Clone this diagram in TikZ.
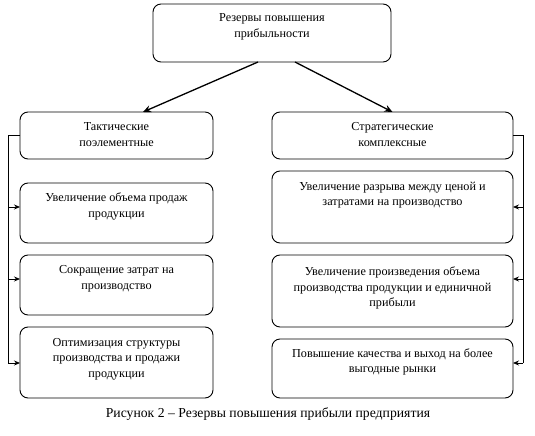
\documentclass[tikz,border=0pt]{standalone}
\usepackage{fontspec}
\setmainfont{Liberation Serif}[Script=Cyrillic]
\usetikzlibrary{arrows.meta}
\begin{document}
\begin{tikzpicture}[x=1pt,y=-1pt,
  box/.style={draw, line width=0.9pt, rounded corners=8pt, anchor=north west, inner sep=0pt, outer sep=0pt},
  txt/.style={align=center, font=\fontsize{12.2}{15.5}\selectfont, inner sep=0pt},
  arr/.style={-{Stealth[length=6pt,width=5pt]}, line width=0.8pt},
  tarr/.style={-{Stealth[length=8pt,width=7pt]}, line width=1.3pt},
  ln/.style={line width=0.8pt}]
\useasboundingbox (0,0) rectangle (535,436);
% boxes
\node[box, minimum width=238pt, minimum height=58pt] (t) at (153,4) {};
\node[box, minimum width=193pt, minimum height=47pt] (l1) at (20,112) {};
\node[box, minimum width=193pt, minimum height=60pt] (l2) at (20,183) {};
\node[box, minimum width=193pt, minimum height=60pt] (l3) at (20,255) {};
\node[box, minimum width=193pt, minimum height=71pt] (l4) at (20,327) {};
\node[box, minimum width=241pt, minimum height=47pt] (r1) at (272,112) {};
\node[box, minimum width=241pt, minimum height=72pt] (r2) at (272,171) {};
\node[box, minimum width=241pt, minimum height=72pt] (r3) at (272,255) {};
\node[box, minimum width=241pt, minimum height=59pt] (r4) at (272,339) {};
% texts
\node[txt] (tt) at (272,27) {Резервы повышения\\прибыльности};
\node[txt] (l1t) at (116.5,134.5) {Тактические\\поэлементные};
\node[txt] (l2t) at (116.5,206.5) {Увеличение объема продаж\\продукции};
\node[txt] (l3t) at (116.5,279) {Сокращение затрат на\\производство};
\node[txt] (l4t) at (116.5,359) {Оптимизация структуры\\производства и продажи\\продукции};
\node[txt] (r1t) at (392.5,134.5) {Стратегические\\комплексные};
\node[txt] (r2t) at (392.5,195) {Увеличение разрыва между ценой и\\затратами на производство};
\node[txt] (r3t) at (392.5,288) {Увеличение произведения объема\\производства продукции и единичной\\прибыли};
\node[txt] (r4t) at (392.5,362) {Повышение качества и выход на более\\выгодные рынки};
% caption
\node[font=\fontsize{13.7}{16}\selectfont, inner sep=0pt] (cap) at (268,414) {Рисунок 2 – Резервы повышения прибыли предприятия};
% top arrows
\draw[tarr] ([xshift=-14pt]t.south) -- ([xshift=26.5pt]l1.north);
\draw[tarr] ([xshift=23pt]t.south) -- (r1.north);
% left bus
\coordinate (lbot) at (8,363);
\coordinate (la2) at (8,207);
\coordinate (la3) at (8,279);
\draw[ln] (l1.west) -| (lbot);
\draw[arr] (la2) -- (la2 -| l2.west);
\draw[arr] (la3) -- (la3 -| l3.west);
\draw[arr] (lbot) -- (lbot -| l4.west);
% right bus
\coordinate (rbot) at (523,363);
\coordinate (ra2) at (523,207);
\coordinate (ra3) at (523,279);
\draw[ln] (r1.east) -| (rbot);
\draw[arr] (ra2) -- (ra2 -| r2.east);
\draw[arr] (ra3) -- (ra3 -| r3.east);
\draw[arr] (rbot) -- (rbot -| r4.east);
\end{tikzpicture}
\end{document}
